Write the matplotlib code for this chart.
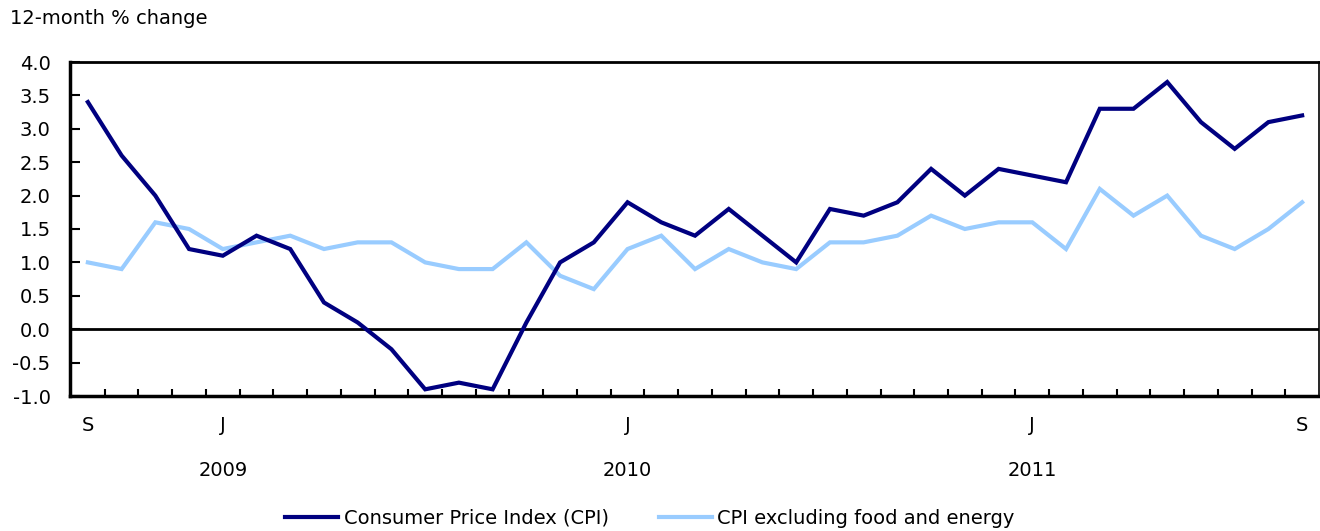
import matplotlib
matplotlib.use("Agg")
import matplotlib.pyplot as plt
from matplotlib.lines import Line2D

plt.rcParams['font.family'] = ['DejaVu Sans']

cpi = [3.4, 2.6, 2.0, 1.2, 1.1, 1.4, 1.2, 0.4, 0.1, -0.3, -0.9, -0.8, -0.9,
       0.1, 1.0, 1.3, 1.9, 1.6, 1.4, 1.8, 1.4, 1.0, 1.8, 1.7, 1.9, 2.4, 2.0,
       2.4, 2.3, 2.2, 3.3, 3.3, 3.7, 3.1, 2.7, 3.1, 3.2]
core = [1.0, 0.9, 1.6, 1.5, 1.2, 1.3, 1.4, 1.2, 1.3, 1.3, 1.0, 0.9, 0.9,
        1.3, 0.8, 0.6, 1.2, 1.4, 0.9, 1.2, 1.0, 0.9, 1.3, 1.3, 1.4, 1.7, 1.5,
        1.6, 1.6, 1.2, 2.1, 1.7, 2.0, 1.4, 1.2, 1.5, 1.9]
month_labels = {0: "S", 4: "J", 16: "J", 28: "J", 36: "S"}
year_labels = {4: "2009", 16: "2010", 28: "2011"}
yticks = [-1.0, -0.5, 0.0, 0.5, 1.0, 1.5, 2.0, 2.5, 3.0, 3.5, 4.0]
series_names = ["Consumer Price Index (CPI)", "CPI excluding food and energy"]
colors = ["#000080", "#99CCFF"]

FS = 14

fig = plt.figure(figsize=(13.2, 5.31), dpi=100)
ax = fig.add_axes([70/1320, 1-396/531, (1319-70)/1320, (396-62)/531])

x = list(range(len(cpi)))
ax.plot(x, core, color=colors[1], lw=3, solid_joinstyle='miter', zorder=3)
ax.plot(x, cpi, color=colors[0], lw=3, solid_joinstyle='miter', zorder=4)
ax.axhline(0, color='black', lw=2, zorder=2)

ax.set_xlim(-0.53, 36.5)
ax.set_ylim(-1.0, 4.0)
ax.set_yticks(yticks)
ax.set_yticklabels([f"{v:.1f}" for v in yticks], fontsize=FS)
ax.tick_params(axis='y', direction='in', length=7, width=1.5, pad=14)
ax.set_xticks([i + 0.5 for i in range(len(cpi) - 1)])
ax.set_xticklabels([])
ax.tick_params(axis='x', direction='in', length=5, width=1.5)

for side in ['left', 'bottom']:
    ax.spines[side].set_linewidth(2.5)
ax.spines['top'].set_linewidth(2)
ax.spines['right'].set_linewidth(1.2)

for i, lab in month_labels.items():
    ax.text(i, -0.087, lab, transform=ax.get_xaxis_transform(), ha='center', va='center', fontsize=FS)
for i, lab in year_labels.items():
    ax.text(i, -0.222, lab, transform=ax.get_xaxis_transform(), ha='center', va='center', fontsize=FS)

fig.text(10/1320, 1-18/531, "12-month % change", ha='left', va='center', fontsize=FS)

handles = [Line2D([0], [0], color=c, lw=3) for c in colors]
fig.legend(handles, series_names, loc='center', bbox_to_anchor=(650/1320, 1-518/531),
           ncol=2, frameon=False, fontsize=FS, handlelength=2.7, handletextpad=0.3,
           columnspacing=2.6)

fig.savefig("out.png", dpi=100, facecolor='white')
